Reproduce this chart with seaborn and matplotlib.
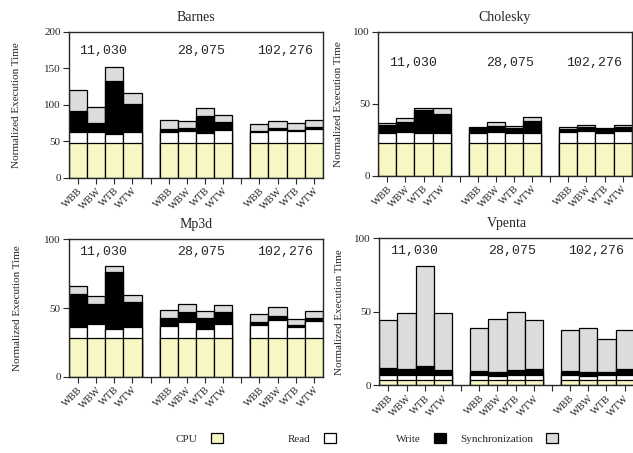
import numpy as np
import pandas as pd
import seaborn as sns
import matplotlib.pyplot as plt
from matplotlib.patches import Patch

configs = ["WBB", "WBW", "WTB", "WTW"]
sizes = ["11,030", "28,075", "102,276"]
components = ["CPU", "Read", "Write", "Synchronization"]
benchmarks = ["Barnes", "Cholesky", "Mp3d", "Vpenta"]

# segment heights, 12 bars each: 3 sizes x 4 configs
barnes_cpu = [48, 48, 48, 48, 48, 48, 48, 48, 48, 48, 48, 48]
barnes_read = [14, 15, 12, 14, 14, 16, 13, 17, 14, 18, 16, 19]
barnes_write = [29, 12, 73, 39, 5, 3.5, 23.5, 11, 2, 1.5, 1.5, 2]
barnes_sync = [28.5, 22, 18, 14.5, 11.5, 10.5, 11.5, 10, 9.5, 10.5, 9, 9.5]

cholesky_cpu = [23, 23, 23, 23, 23, 23, 23, 23, 23, 23, 23, 23]
cholesky_read = [7, 7.5, 6.5, 7, 7, 7.5, 6.5, 7, 7.3, 8, 7, 7.8]
cholesky_write = [5.2, 7, 16.2, 12.9, 2.9, 4.2, 3.9, 8, 2.3, 2.8, 2.2, 3.2]
cholesky_sync = [1.1, 2.3, 1.6, 4, 0.9, 2.3, 1.4, 2.5, 1, 1.4, 0.7, 1.4]

mp3d_cpu = [28, 28, 28, 28, 28, 28, 28, 28, 28, 28, 28, 28]
mp3d_read = [8.4, 10.1, 6.5, 8.2, 9.1, 12, 7, 10.1, 9.6, 13.3, 7.9, 12.8]
mp3d_write = [23.6, 15.1, 41.5, 18.2, 5.9, 6.8, 8, 8.7, 2, 2.9, 1.7, 1.7]
mp3d_sync = [6.3, 5.8, 4.6, 5.3, 5.8, 6.1, 4.8, 5.4, 5.8, 6.3, 4.4, 5.5]

vpenta_cpu = [3.5, 3.5, 3.5, 3.5, 3.5, 3.5, 3.5, 3.5, 3.5, 3.5, 3.5, 3.5]
vpenta_read = [3.5, 3.5, 3.5, 3.3, 3.3, 3, 3.5, 3.5, 3.3, 3, 3.3, 3.5]
vpenta_write = [5, 4, 6, 3.4, 3, 2.8, 3, 3.7, 2.7, 2.8, 2.5, 3.7]
vpenta_sync = [32.4, 37.8, 68.2, 39, 29.4, 35.6, 40.1, 33.5, 27.9, 29.7, 22.4, 26.7]

data = {
    "Barnes": [barnes_cpu, barnes_read, barnes_write, barnes_sync],
    "Cholesky": [cholesky_cpu, cholesky_read, cholesky_write, cholesky_sync],
    "Mp3d": [mp3d_cpu, mp3d_read, mp3d_write, mp3d_sync],
    "Vpenta": [vpenta_cpu, vpenta_read, vpenta_write, vpenta_sync],
}

colors = {"CPU": "#f7f7c4", "Read": "#ffffff", "Write": "#000000",
          "Synchronization": "#dcdcdc"}

rows = []
for bench, parts in data.items():
    for i in range(12):
        g, c = divmod(i, 4)
        row = {"bench": bench, "pos": g * 5 + c, "config": configs[c]}
        for comp, vals in zip(components, parts):
            row[comp] = vals[i]
        rows.append(row)
df = pd.DataFrame(rows)
df[[c + "_top" for c in components]] = df[components].cumsum(axis=1).values

sns.set_style("ticks")
plt.rcParams['font.family'] = ['Liberation Serif', 'DejaVu Serif']

fig = plt.figure(figsize=(6.33, 4.53), dpi=100)

# [left, bottom, width, height], ylim, ylabel x, label y (axes frac)
panels = {
    "Barnes": ([0.109, 0.6077, 0.401, 0.3223], 200, -0.189, 0.87),
    "Cholesky": ([0.5976, 0.6121, 0.4003, 0.3179], 100, -0.14, 0.785),
    "Mp3d": ([0.109, 0.1684, 0.401, 0.3033], 100, -0.186, 0.91),
    "Vpenta": ([0.5992, 0.1497, 0.402, 0.3245], 100, -0.138, 0.91),
}
label_x = [1.4, 6.8, 11.4]

for bench in benchmarks:
    box, ymax, ylx, lab_y = panels[bench]
    ax = fig.add_axes(box)
    sub = df[df.bench == bench]
    for comp in reversed(components):
        sns.barplot(data=sub, x="pos", y=comp + "_top", color=colors[comp],
                    edgecolor="black", linewidth=0.9, width=1, saturation=1,
                    native_scale=True, errorbar=None, ax=ax)
    ax.set_xlim(-0.5, 13.5)
    ax.set_ylim(0, ymax)
    ax.set_yticks(np.arange(0, ymax + 1, 50))
    ticks = list(range(14))
    ax.set_xticks(ticks)
    ax.set_xticklabels([configs[t % 5] if t % 5 < 4 else "" for t in ticks],
                       rotation=45, ha="right", rotation_mode="anchor", fontsize=7.5)
    ax.tick_params(axis="y", labelsize=8, length=4, width=0.8, pad=2)
    ax.tick_params(axis="x", length=4, width=0.8, pad=2)
    for s in ax.spines.values():
        s.set_linewidth(1.0)
        s.set_visible(True)
    ax.set_xlabel("")
    ax.set_ylabel("Normalized Execution Time", fontsize=8)
    ax.yaxis.set_label_coords(ylx, 0.5)
    ax.set_title(bench, fontsize=10, pad=8)
    for x, s in zip(label_x, sizes):
        ax.text(x, lab_y * ymax, s, family="Liberation Mono", fontsize=9.5,
                ha="center", va="center")

legend_x = [176, 288, 396, 460]
for comp, lx in zip(components, legend_x):
    h = Patch(facecolor=colors[comp], edgecolor="black", linewidth=0.9)
    fig.legend(handles=[h], labels=[comp], loc="center left",
               bbox_to_anchor=(lx / 633, 0.033), markerfirst=False,
               frameon=False, fontsize=8, borderpad=0, borderaxespad=0,
               handlelength=1.05, handleheight=1.05, handletextpad=1.2)

fig.savefig("out.png", dpi=100)
